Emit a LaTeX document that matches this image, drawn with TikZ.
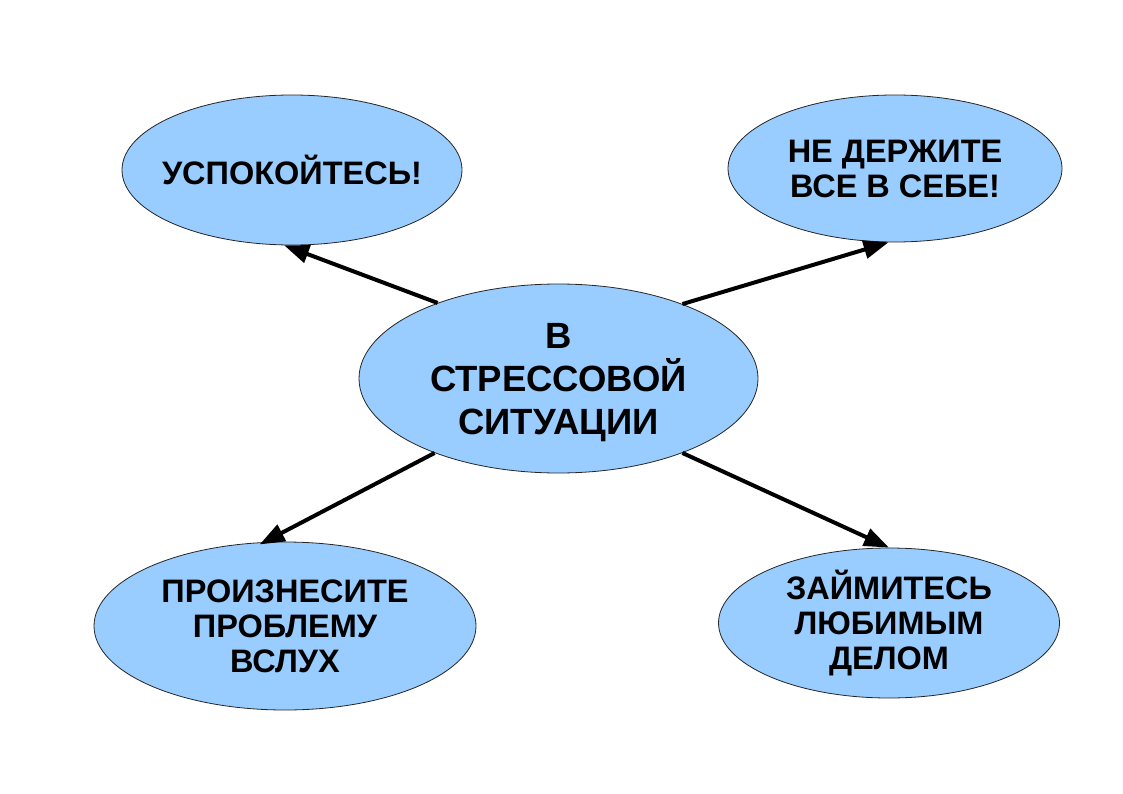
\documentclass[tikz,border=0pt]{standalone}
\usepackage{fontspec}
\setmainfont{Liberation Sans}
\usetikzlibrary{shapes.geometric,arrows.meta}
\definecolor{bubblefill}{HTML}{99CCFF}
\begin{document}
\begin{tikzpicture}[x=1pt,y=-1pt,
  bubble/.style={ellipse, draw=black!85, line width=0.8pt, fill=bubblefill, inner sep=0pt},
  txt/.style={align=center, font=\bfseries\fontsize{32.5}{35}\selectfont, inner sep=0pt},
  bigtxt/.style={align=center, font=\bfseries\fontsize{36.5}{43}\selectfont, inner sep=0pt},
  link/.style={line width=4pt, -{Triangle[length=25pt,width=18pt]}}]
\useasboundingbox (0,0) rectangle (1123,794);
\fill[white] (0,0) rectangle (1123,794);
% bubbles
\node[bubble, minimum width=399pt, minimum height=189pt] (c) at (558.5,378.5) {};
\node[bubble, minimum width=340pt, minimum height=150pt] (tl) at (292,170) {};
\node[bubble, minimum width=334pt, minimum height=147pt] (tr) at (895,168.5) {};
\node[bubble, minimum width=382pt, minimum height=168pt] (bl) at (285,626) {};
\node[bubble, minimum width=341pt, minimum height=150pt] (br) at (889,623) {};
% texts
\node[bigtxt] (ct) at ([yshift=-4pt]c.center) {В\\СТРЕССОВОЙ\\СИТУАЦИИ};
\node[txt] (tlt) at (tl) {УСПОКОЙТЕСЬ!};
\node[txt] (trt) at (tr) {НЕ ДЕРЖИТЕ\\ВСЕ В СЕБЕ!};
\node[txt] (blt) at (bl) {ПРОИЗНЕСИТЕ\\ПРОБЛЕМУ\\ВСЛУХ};
\node[txt] (brt) at (br) {ЗАЙМИТЕСЬ\\ЛЮБИМЫМ\\ДЕЛОМ};
% connectors
\draw[link] (c.148.6) -- (tl.264);
\draw[link] (c.31.4) -- (tr.265);
\draw[link, shorten >=-5pt] (c.211.1) -- (bl.104);
\draw[link] (c.-31.1) -- (br.90);
\end{tikzpicture}
\end{document}
